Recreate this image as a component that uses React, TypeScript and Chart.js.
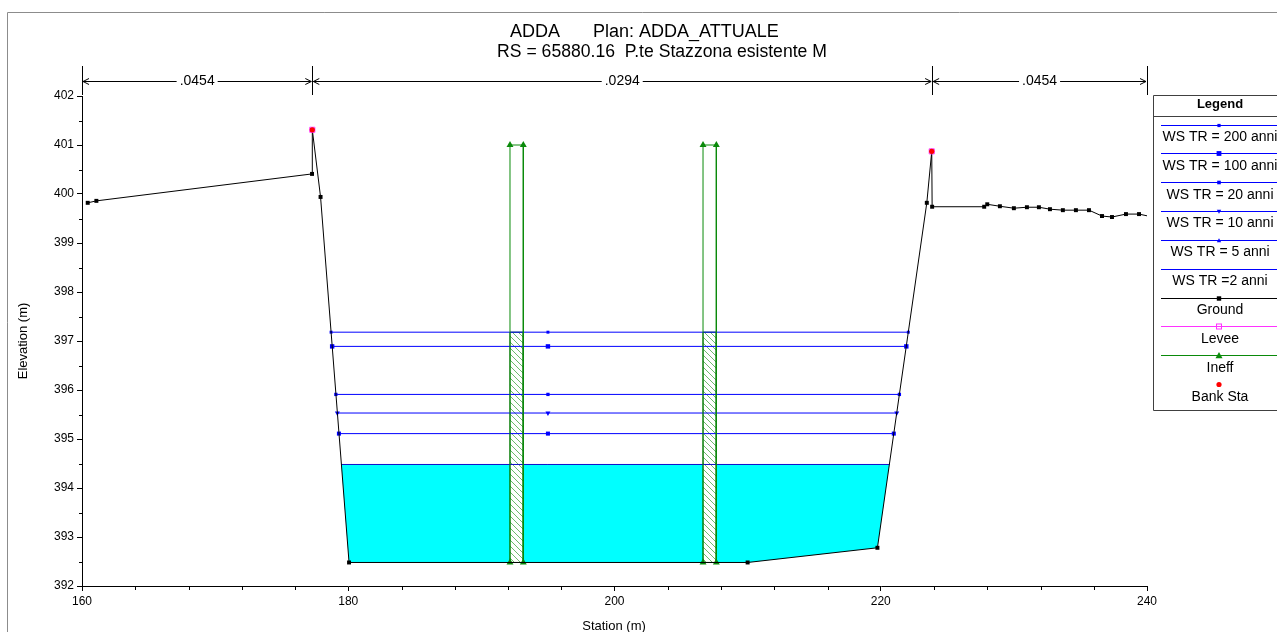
import React, { useEffect, useRef } from 'react';
import { Chart, registerables } from 'chart.js';

Chart.register(...registerables);

// ---------- text ----------
const TITLE_L1_A = 'ADDA';
const TITLE_L1_B = 'Plan: ADDA_ATTUALE';
const TITLE_L2 = 'RS = 65880.16  P.te Stazzona esistente M';
const X_TITLE = 'Station (m)';
const Y_TITLE = 'Elevation (m)';

// ---------- ground (station, elevation) ----------
const groundStation = [160.43, 161.08, 177.28, 177.3, 177.92, 180.06, 210.0, 219.75, 223.46, 223.83, 223.86, 227.77, 228.0, 228.95, 230.0, 230.98, 231.88, 232.71, 233.68, 234.66, 235.64, 236.62, 237.37, 238.42, 239.4, 240.6];
const groundElev = [399.82, 399.86, 400.41, 401.31, 399.94, 392.48, 392.48, 392.78, 399.82, 400.87, 399.74, 399.74, 399.79, 399.75, 399.71, 399.73, 399.73, 399.69, 399.67, 399.67, 399.67, 399.55, 399.53, 399.59, 399.59, 399.52];

// ---------- water surfaces ----------
const wsNames = ['WS TR = 200 anni', 'WS TR = 100 anni', 'WS TR = 20 anni', 'WS TR = 10 anni', 'WS TR = 5 anni', 'WS TR =2 anni'];
const wsLevels = [397.18, 396.89, 395.91, 395.53, 395.11, 394.48];
const wsLeft = [178.71, 178.79, 179.07, 179.18, 179.3, 179.48];
const wsRight = [222.07, 221.92, 221.4, 221.2, 220.98, 220.65];
const wsMid = 195.0;

// ---------- bank stations / levee ----------
const bankStation = [177.3, 223.83];
const bankElev = [401.31, 400.87];

// ---------- ineffective / piers ----------
const ineffLeft = [192.15, 206.65];
const ineffRight = [193.15, 207.65];
const ineffTop = 401.0;
const ineffBottom = 392.48;

// ---------- Manning n regions ----------
const nValues = ['.0454', '.0294', '.0454'];
const nBounds = [160, 177.3, 223.86, 240];

// ---------- axes ----------
const xMin = 160, xMax = 240, xStep = 4, xLabelEvery = 20;
const yMin = 392, yMax = 402, yStep = 0.5;

const legendLabels = [...wsNames, 'Ground', 'Levee', 'Ineff', 'Bank Sta'];

const FONT = "'Liberation Sans', Arial, sans-serif";
const BLUE = '#0000ff';
const GREEN = '#0a8a0a';
const MAGENTA = '#ff33ff';

type Style = 'none' | 'rect' | 'circle' | 'triangle' | 'triangleDown' | 'hollowRect';
const wsPointStyles: Style[] = ['rect', 'rect', 'rect', 'triangleDown', 'triangle', 'none'];
const wsPointRadius = [1.6, 2.4, 1.8, 2.2, 2.2, 0];

function drawMarker(ctx: CanvasRenderingContext2D, style: Style, x: number, y: number, r: number, color: string) {
  ctx.save();
  ctx.fillStyle = color;
  ctx.strokeStyle = color;
  ctx.lineWidth = 1;
  if (style === 'rect') {
    ctx.fillRect(x - r, y - r, 2 * r, 2 * r);
  } else if (style === 'hollowRect') {
    ctx.strokeRect(x - r + 0.5, y - r + 0.5, 2 * r - 1, 2 * r - 1);
  } else if (style === 'circle') {
    ctx.beginPath();
    ctx.arc(x, y, r, 0, Math.PI * 2);
    ctx.fill();
  } else if (style === 'triangle') {
    ctx.beginPath();
    ctx.moveTo(x, y - r);
    ctx.lineTo(x + r, y + r * 0.8);
    ctx.lineTo(x - r, y + r * 0.8);
    ctx.closePath();
    ctx.fill();
  } else if (style === 'triangleDown') {
    ctx.beginPath();
    ctx.moveTo(x, y + r);
    ctx.lineTo(x + r, y - r * 0.8);
    ctx.lineTo(x - r, y - r * 0.8);
    ctx.closePath();
    ctx.fill();
  }
  ctx.restore();
}

function makeHatch(): CanvasPattern | string {
  const c = document.createElement('canvas');
  const s = 6;
  c.width = s;
  c.height = s;
  const g = c.getContext('2d');
  if (!g) return '#ffffff';
  g.fillStyle = '#ffffff';
  g.fillRect(0, 0, s, s);
  g.strokeStyle = '#5cb35c';
  g.lineWidth = 0.9;
  g.beginPath();
  g.moveTo(0, 0);
  g.lineTo(s, s);
  g.moveTo(-1, s - 1);
  g.lineTo(1, s + 1);
  g.moveTo(s - 1, -1);
  g.lineTo(s + 1, 1);
  g.stroke();
  const p = g.createPattern(c, 'repeat');
  return p || '#ffffff';
}

const decorations = {
  id: 'hecrasDecorations',
  afterDraw(chart: any) {
    const ctx: CanvasRenderingContext2D = chart.ctx;
    const xs = chart.scales.x;
    const ys = chart.scales.y;
    const area = chart.chartArea;
    ctx.save();

    // outer frame
    ctx.strokeStyle = '#8c8c8c';
    ctx.lineWidth = 1;
    ctx.beginPath();
    ctx.moveTo(7.5, 632);
    ctx.lineTo(7.5, 12.5);
    ctx.lineTo(1277, 12.5);
    ctx.stroke();

    // title
    ctx.fillStyle = '#000';
    ctx.font = `18px ${FONT}`;
    ctx.textBaseline = 'middle';
    ctx.textAlign = 'left';
    ctx.fillText(TITLE_L1_A, 510, 32);
    ctx.fillText(TITLE_L1_B, 593, 32);
    ctx.textAlign = 'center';
    ctx.font = `17.6px ${FONT}`;
    ctx.fillText(TITLE_L2, 662, 52);

    // minor ticks
    ctx.strokeStyle = '#000';
    ctx.lineWidth = 1;
    ctx.beginPath();
    for (let v = yMin; v <= yMax + 1e-9; v += yStep) {
      if (Math.abs(v - Math.round(v)) < 1e-6) continue;
      const py = Math.round(ys.getPixelForValue(v)) + 0.5;
      ctx.moveTo(area.left - 3, py);
      ctx.lineTo(area.left, py);
    }
    for (let v = xMin; v <= xMax + 1e-9; v += xStep) {
      if (v % xLabelEvery === 0) continue;
      const px = Math.round(xs.getPixelForValue(v)) + 0.5;
      ctx.moveTo(px, area.bottom);
      ctx.lineTo(px, area.bottom + 4);
    }
    ctx.stroke();

    // Manning n dimension lines
    const dy = 81.5;
    ctx.beginPath();
    for (let i = 0; i < nBounds.length; i++) {
      const px = Math.round(xs.getPixelForValue(nBounds[i])) + 0.5;
      ctx.moveTo(px, 66);
      ctx.lineTo(px, 95);
    }
    ctx.stroke();
    ctx.font = `14px ${FONT}`;
    ctx.textAlign = 'center';
    ctx.textBaseline = 'middle';
    for (let i = 0; i < nValues.length; i++) {
      const x0 = xs.getPixelForValue(nBounds[i]) + 1;
      const x1 = xs.getPixelForValue(nBounds[i + 1]) - 1;
      const mid = (x0 + x1) / 2;
      const w = ctx.measureText(nValues[i]).width;
      ctx.fillText(nValues[i], mid, dy);
      ctx.beginPath();
      ctx.moveTo(x0, dy);
      ctx.lineTo(mid - w / 2 - 3, dy);
      ctx.moveTo(mid + w / 2 + 3, dy);
      ctx.lineTo(x1, dy);
      // arrows
      ctx.moveTo(x0 + 6, dy - 3);
      ctx.lineTo(x0, dy);
      ctx.lineTo(x0 + 6, dy + 3);
      ctx.moveTo(x1 - 6, dy - 3);
      ctx.lineTo(x1, dy);
      ctx.lineTo(x1 - 6, dy + 3);
      ctx.stroke();
    }

    // axis titles
    ctx.font = `13px ${FONT}`;
    ctx.fillStyle = '#000';
    ctx.textAlign = 'center';
    ctx.textBaseline = 'middle';
    ctx.fillText(X_TITLE, 614, 626);
    ctx.save();
    ctx.translate(23, 341);
    ctx.rotate(-Math.PI / 2);
    ctx.fillText(Y_TITLE, 0, 0);
    ctx.restore();

    // legend box
    const lx = 1153.5;
    const lTop = 95.5;
    const lBottom = 410.5;
    ctx.fillStyle = '#ffffff';
    ctx.fillRect(lx, lTop, 1277 - lx, lBottom - lTop);
    ctx.strokeStyle = '#404040';
    ctx.beginPath();
    ctx.moveTo(1278, lTop);
    ctx.lineTo(lx, lTop);
    ctx.lineTo(lx, lBottom);
    ctx.lineTo(1278, lBottom);
    ctx.moveTo(lx, 116.5);
    ctx.lineTo(1278, 116.5);
    ctx.stroke();
    ctx.fillStyle = '#000';
    ctx.font = `bold 13px ${FONT}`;
    ctx.fillText('Legend', 1220, 104);
    ctx.font = `14px ${FONT}`;
    const cx = 1219;
    const lineColors = [BLUE, BLUE, BLUE, BLUE, BLUE, BLUE, '#000000', MAGENTA, GREEN, ''];
    const markers: Style[] = [...wsPointStyles, 'rect', 'hollowRect', 'triangle', 'circle'];
    const markerR = [1.6, 2.4, 1.8, 2.2, 2.2, 0, 2.2, 3, 3.5, 2.6];
    const markerColors = [BLUE, BLUE, BLUE, BLUE, BLUE, BLUE, '#000000', MAGENTA, GREEN, '#ff0000'];
    for (let i = 0; i < legendLabels.length; i++) {
      const ly = 124.5 + i * 28.85;
      if (lineColors[i]) {
        ctx.strokeStyle = lineColors[i];
        ctx.beginPath();
        ctx.moveTo(1161, Math.round(ly) + 0.5);
        ctx.lineTo(1278, Math.round(ly) + 0.5);
        ctx.stroke();
      }
      if (markers[i] !== 'none') drawMarker(ctx, markers[i], cx, Math.round(ly) + 0.5, markerR[i], markerColors[i]);
      ctx.fillStyle = '#000';
      ctx.fillText(legendLabels[i], 1220, ly + 12.5);
    }

    ctx.restore();
  },
};

export default function App() {
  const ref = useRef<HTMLCanvasElement>(null);

  useEffect(() => {
    document.body.style.margin = '0';
    const canvas = ref.current;
    if (!canvas) return;
    const hatch = makeHatch();

    const ground = groundStation.map((x, i) => ({ x, y: groundElev[i] }));

    const fillPoly = [
      { x: wsLeft[5], y: wsLevels[5] },
      { x: wsRight[5], y: wsLevels[5] },
      { x: groundStation[7], y: groundElev[7] },
      { x: groundStation[6], y: groundElev[6] },
      { x: groundStation[5], y: groundElev[5] },
      { x: wsLeft[5], y: wsLevels[5] },
    ];

    const datasets: any[] = [];

    // cyan fill of lowest water surface
    datasets.push({
      label: 'fill',
      data: fillPoly,
      showLine: true,
      fill: 'shape',
      backgroundColor: '#00ffff',
      borderColor: 'rgba(0,0,0,0)',
      borderWidth: 0,
      pointRadius: 0,
      order: 20,
    });

    // pier hatch
    for (let i = 0; i < ineffLeft.length; i++) {
      datasets.push({
        label: 'pier' + i,
        data: [
          { x: ineffLeft[i], y: ineffBottom },
          { x: ineffLeft[i], y: wsLevels[0] },
          { x: ineffRight[i], y: wsLevels[0] },
          { x: ineffRight[i], y: ineffBottom },
          { x: ineffLeft[i], y: ineffBottom },
        ],
        showLine: true,
        fill: 'shape',
        backgroundColor: hatch,
        borderColor: '#006400',
        borderWidth: 1,
        pointRadius: 0,
        order: 19,
      });
    }

    // water surfaces
    for (let i = 0; i < wsNames.length; i++) {
      const st = wsPointStyles[i];
      const data = [
        { x: wsLeft[i], y: wsLevels[i] },
        { x: wsMid, y: wsLevels[i] },
        { x: wsRight[i], y: wsLevels[i] },
      ];
      datasets.push({
        label: wsNames[i],
        data,
        showLine: true,
        borderColor: i === 5 ? '#1010c8' : BLUE,
        borderWidth: 1,
        backgroundColor: BLUE,
        pointStyle: st === 'triangleDown' ? 'triangle' : 'rect',
        rotation: st === 'triangleDown' ? 180 : 0,
        pointRadius: st === 'none' ? 0 : wsPointRadius[i] * 1.3,
        pointBorderWidth: 0,
        order: 10 + i,
      });
    }

    // ineffective lines
    for (let i = 0; i < ineffLeft.length; i++) {
      datasets.push({
        label: 'Ineff' + i,
        data: [
          { x: ineffLeft[i], y: ineffBottom },
          { x: ineffLeft[i], y: ineffTop },
          { x: ineffRight[i], y: ineffTop },
          { x: ineffRight[i], y: ineffBottom },
        ],
        showLine: true,
        borderColor: GREEN,
        borderWidth: 1,
        backgroundColor: GREEN,
        pointStyle: 'triangle',
        pointRadius: 4,
        pointBorderWidth: 0,
        order: 5,
      });
    }

    // ground
    datasets.push({
      label: 'Ground',
      data: ground,
      showLine: true,
      borderColor: '#000000',
      borderWidth: 1,
      backgroundColor: '#000000',
      pointStyle: 'rect',
      pointRadius: 2.8,
      pointBorderWidth: 0,
      clip: 0,
      order: 3,
    });

    // levee (hollow magenta square at bank points)
    datasets.push({
      label: 'Levee',
      data: bankStation.map((x, i) => ({ x, y: bankElev[i] })),
      showLine: false,
      borderColor: MAGENTA,
      backgroundColor: 'rgba(0,0,0,0)',
      pointStyle: 'rect',
      pointRadius: 3.6,
      pointBorderWidth: 1,
      order: 2,
    });

    // bank stations
    datasets.push({
      label: 'Bank Sta',
      data: bankStation.map((x, i) => ({ x, y: bankElev[i] })),
      showLine: false,
      borderColor: '#ff0000',
      backgroundColor: '#ff0000',
      pointStyle: 'circle',
      pointRadius: 2.6,
      pointBorderWidth: 0,
      order: 1,
    });

    const chart = new Chart(canvas, {
      type: 'scatter',
      data: { datasets },
      options: {
        animation: false,
        responsive: true,
        maintainAspectRatio: false,
        layout: { padding: { left: 0, right: 130, top: 96, bottom: 0 } },
        plugins: {
          legend: { display: false },
          tooltip: { enabled: false },
          title: { display: false },
        },
        elements: { line: { tension: 0 } },
        scales: {
          x: {
            type: 'linear',
            min: xMin,
            max: xMax,
            afterFit: (s: any) => { s.height = 46; },
            ticks: {
              stepSize: xStep,
              autoSkip: false,
              maxRotation: 0,
              color: '#000',
              font: { family: FONT, size: 12 },
              callback: (v: any) => (Number(v) % xLabelEvery === 0 ? String(v) : ''),
            },
            grid: {
              drawOnChartArea: false,
              drawTicks: true,
              tickLength: 5,
              tickColor: (c: any) => (c.tick && Number(c.tick.value) % xLabelEvery === 0 ? '#000' : 'rgba(0,0,0,0)'),
            },
            border: { display: true, color: '#000', width: 1 },
          },
          y: {
            type: 'linear',
            min: yMin,
            max: yMax,
            afterFit: (s: any) => { s.width = 82; },
            ticks: {
              stepSize: yStep,
              autoSkip: false,
              color: '#000',
              font: { family: FONT, size: 12 },
              callback: (v: any) => (Number.isInteger(Number(v)) ? String(v) : ''),
            },
            grid: {
              drawOnChartArea: false,
              drawTicks: true,
              tickLength: 5,
              tickColor: (c: any) => (c.tick && Number.isInteger(Number(c.tick.value)) ? '#000' : 'rgba(0,0,0,0)'),
            },
            border: { display: true, color: '#000', width: 1 },
          },
        },
      },
      plugins: [decorations],
    } as any);

    return () => chart.destroy();
  }, []);

  return (
    <div style={{ position: 'fixed', left: 0, top: 0, width: 1277, height: 632, background: '#ffffff' }}>
      <canvas ref={ref} style={{ display: 'block' }} />
    </div>
  );
}
